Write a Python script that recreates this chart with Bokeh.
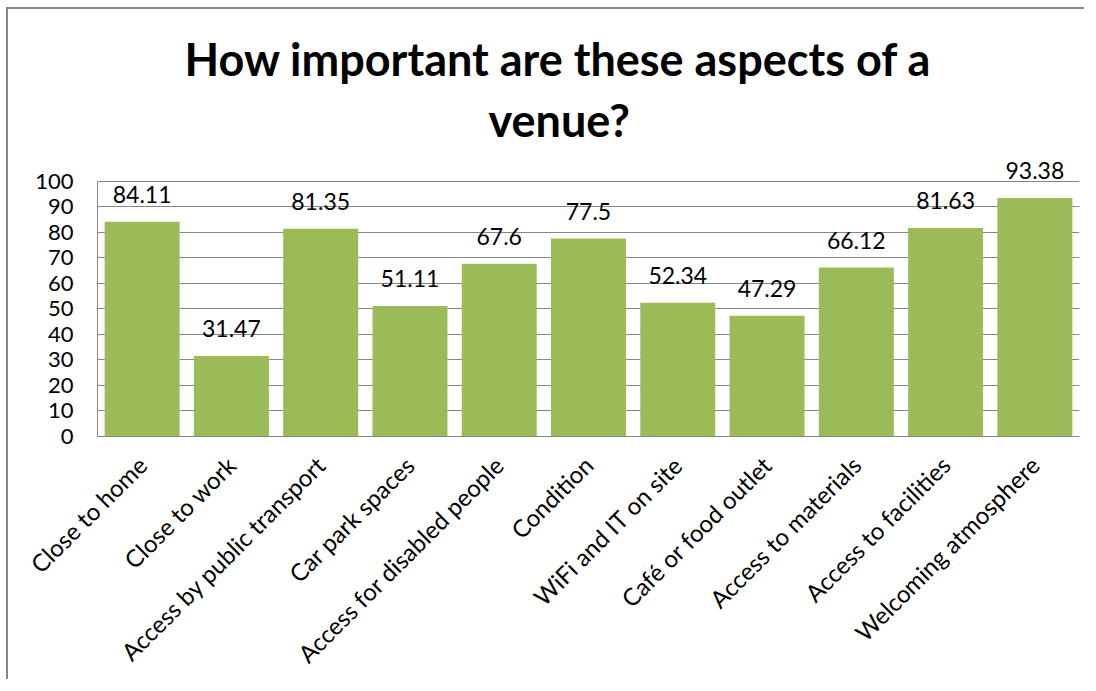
import math
from bokeh.plotting import figure
from bokeh.models import ColumnDataSource, LabelSet, FixedTicker, Range1d, FactorRange, Title
from bokeh.core.properties import value
from bokeh.embed import file_html
from bokeh.resources import INLINE

categories = ["Close to home", "Close to work", "Access by public transport",
              "Car park spaces", "Access for disabled people", "Condition",
              "WiFi and IT on site", "Café or food outlet", "Access to materials",
              "Access to facilities", "Welcoming atmosphere"]
values = [84.11, 31.47, 81.35, 51.11, 67.6, 77.5, 52.34, 47.29, 66.12, 81.63, 93.38]
value_labels = ["84.11", "31.47", "81.35", "51.11", "67.6", "77.5", "52.34",
                "47.29", "66.12", "81.63", "93.38"]
y_ticks = [0, 10, 20, 30, 40, 50, 60, 70, 80, 90, 100]
title_lines = ["How important are these aspects of a", "venue?"]

FONT = "Lato"
BAR = "#9BBB59"
GRID = "#868686"

src = ColumnDataSource(dict(cat=categories, val=values, lab=value_labels))

# y range extends above 100 only to leave room for the data labels; axis and grid stop at 100
p = figure(x_range=FactorRange(factors=categories, range_padding=0),
           y_range=Range1d(0, 110),
           width=1078, height=672, output_backend="svg", toolbar_location=None,
           min_border_left=89, min_border_right=7, min_border_top=146,
           min_border_bottom=244, title=None)
p.styles = {"border-left": "2px solid #878787", "border-top": "2px solid #878787",
            "margin-left": "6px", "margin-top": "7px"}

# title: two lines, nearest-to-frame first
title_offsets = [391, 87]
title_standoffs = [17, -6]
for line, off, so in zip(reversed(title_lines), title_offsets, title_standoffs):
    t = Title(text=line, text_font=FONT, text_font_size="45px",
              text_font_style="bold", align="left", text_color="black",
              offset=off, standoff=so)
    p.add_layout(t, "above")

p.vbar(x="cat", top="val", width=0.84, source=src, fill_color=BAR, line_color=None)

labels = LabelSet(x="cat", y="val", text="lab", source=src, text_align="center",
                  text_baseline="alphabetic", y_offset=19, text_font=value(FONT),
                  text_font_size="23px", text_color="black")
p.add_layout(labels)

p.outline_line_color = None
p.xgrid.grid_line_color = None
p.ygrid.grid_line_color = GRID
p.ygrid.grid_line_width = 1
p.ygrid.bounds = (0, 100)

p.yaxis.ticker = FixedTicker(ticks=y_ticks)
p.yaxis.bounds = (0, 100)
p.yaxis.major_tick_line_color = None
p.yaxis.minor_tick_line_color = None
p.yaxis.major_tick_out = 0
p.yaxis.major_tick_in = 0
p.yaxis.axis_line_color = GRID
p.yaxis.major_label_standoff = 24
p.yaxis.major_label_text_font = FONT
p.yaxis.major_label_text_font_size = "22px"
p.yaxis.major_label_text_color = "black"

p.xaxis.major_tick_line_color = None
p.xaxis.minor_tick_line_color = None
p.xaxis.major_tick_out = 0
p.xaxis.major_tick_in = 0
p.xaxis.axis_line_color = GRID
p.xaxis.major_label_orientation = math.pi / 4
p.xaxis.major_label_standoff = 24
p.xaxis.major_label_text_font = FONT
p.xaxis.major_label_text_font_size = "24px"
p.xaxis.major_label_text_color = "black"

open("out.html", "w").write(file_html(p, INLINE))
